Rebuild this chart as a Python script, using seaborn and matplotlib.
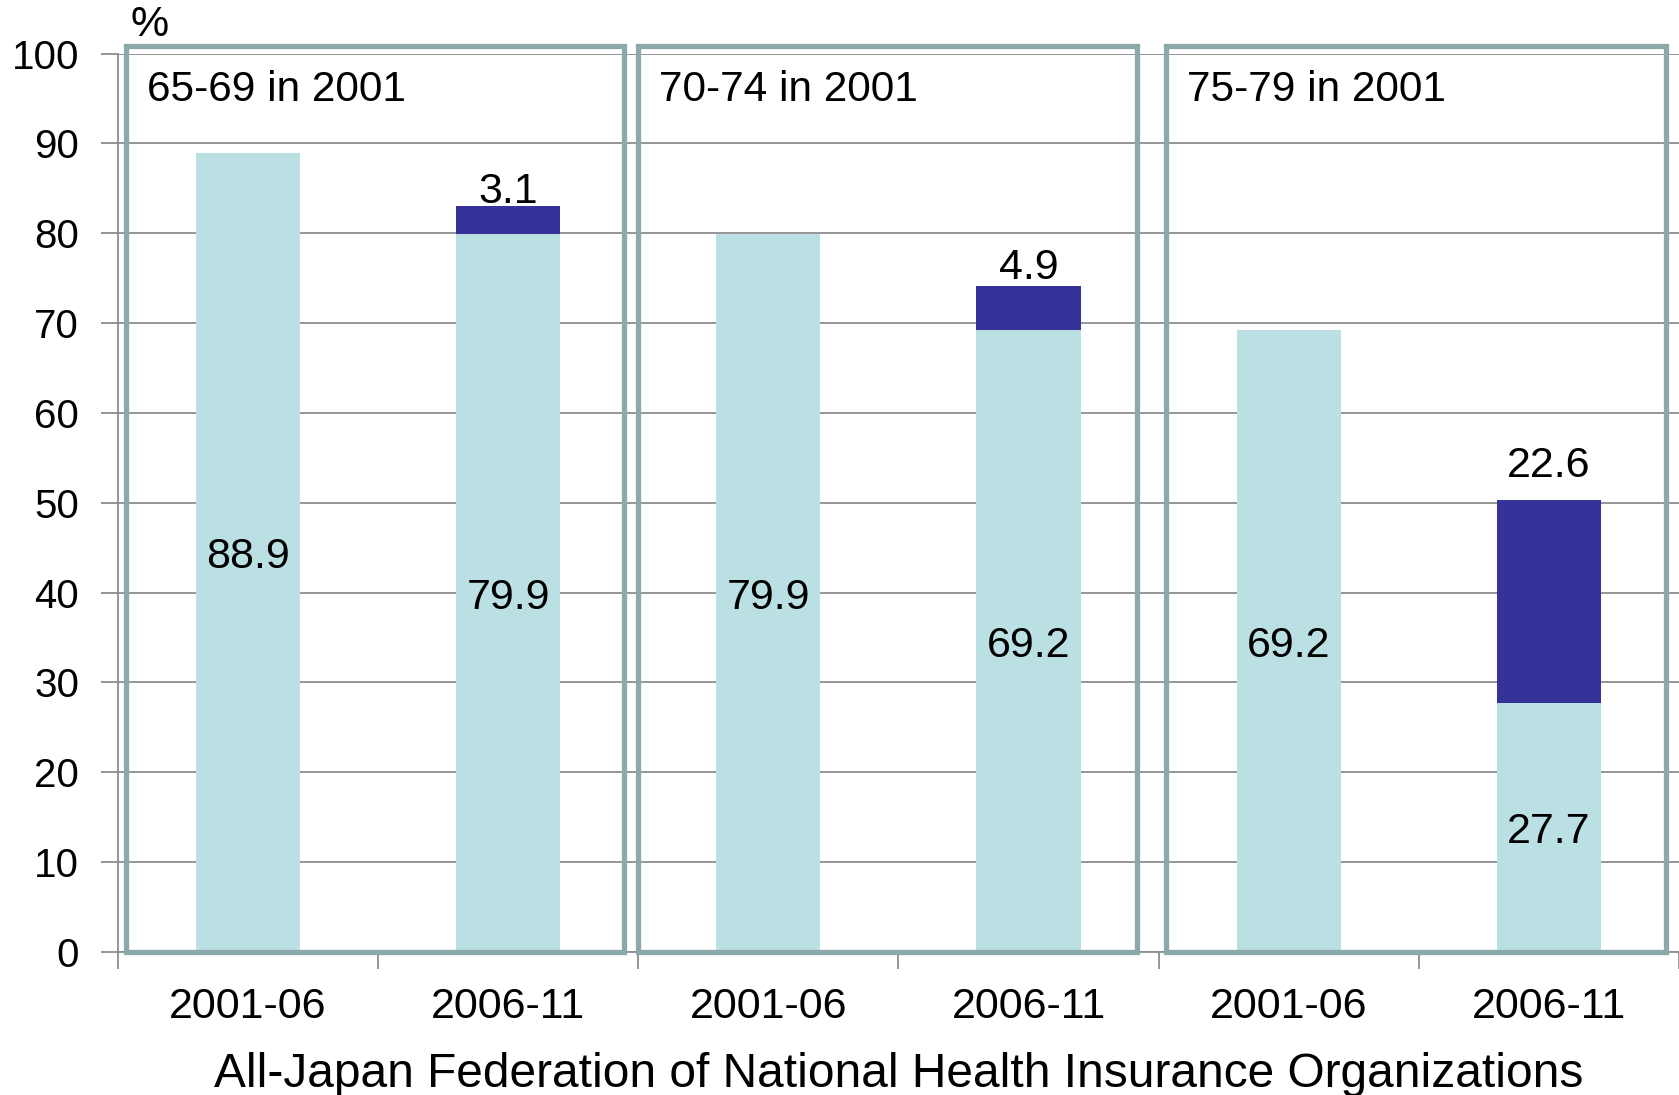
import numpy as np
import pandas as pd
import seaborn as sns
import matplotlib.pyplot as plt
from matplotlib.patches import Rectangle

# data
periods = ['2001-06', '2006-11', '2001-06', '2006-11', '2001-06', '2006-11']
light_vals = [88.9, 79.9, 79.9, 69.2, 69.2, 27.7]
dark_vals = [0, 3.1, 0, 4.9, 0, 22.6]
group_titles = ['65-69 in 2001', '70-74 in 2001', '75-79 in 2001']

df = pd.DataFrame({
    'pos': [str(i) for i in range(len(periods))],
    'light': light_vals,
    'dark': dark_vals,
})
df['total'] = df['light'] + df['dark']

sns.set_style('white')
plt.rcParams['font.family'] = ['Liberation Sans', 'DejaVu Sans']
plt.rcParams['text.color'] = 'black'
plt.rcParams['xtick.color'] = 'black'
plt.rcParams['ytick.color'] = 'black'
plt.rcParams['axes.labelcolor'] = 'black'

fig = plt.figure(figsize=(16.79, 10.95), dpi=100)
ax = fig.add_axes([0.0702, 0.1306, 0.9298, 0.8204])

light_c = '#BAE0E3'
dark_c = '#353399'
box_c = '#8BA8AA'
grey = '#8c8c8c'

# stacked: draw the totals in dark, then the light part over them
sns.barplot(data=df, x='pos', y='total', color=dark_c, saturation=1, width=0.4,
            linewidth=0, ax=ax, zorder=2)
sns.barplot(data=df, x='pos', y='light', color=light_c, saturation=1, width=0.4,
            linewidth=0, ax=ax, zorder=3)

ax.set_ylim(0, 100)
ax.set_xlim(-0.5, 5.5)
ax.set_yticks(range(0, 101, 10))
ax.yaxis.grid(True, color=grey, linewidth=1.3)
ax.set_axisbelow(True)
ax.tick_params(axis='y', labelsize=29, length=12, color=grey, width=1.3, pad=16, left=True)

# major ticks at the category borders, labels on minor ticks
ax.set_xticks(np.arange(-0.5, 5.6, 1.0))
ax.set_xticklabels([])
ax.set_xticks(range(len(periods)), minor=True)
ax.set_xticklabels(periods, minor=True)
ax.tick_params(axis='x', which='major', length=12, color=grey, width=1.3, bottom=True)
ax.tick_params(axis='x', which='minor', length=0, labelsize=31, pad=25)

for s in ['top', 'right']:
    ax.spines[s].set_visible(False)
for s in ['left', 'bottom']:
    ax.spines[s].set_color(grey)
    ax.spines[s].set_linewidth(1.3)

ax.set_xlabel('All-Japan Federation of National Health Insurance Organizations', fontsize=34.5, labelpad=18)
ax.set_ylabel('')

# value labels
top_pad = [0, -0.6, 0, -0.2, 0, 1.6]
for i, row in df.iterrows():
    ax.text(i, row['light'] / 2, f"{row['light']:.1f}", ha='center', va='center_baseline',
            fontsize=31, zorder=5)
    if row['dark'] > 0:
        ax.text(i, row['total'] + top_pad[i], f"{row['dark']:.1f}", ha='center', va='bottom',
                fontsize=31, zorder=5)

# group frames
box_x = [(-0.467, 1.447), (1.5, 3.418), (3.529, 5.45)]
for (x0, x1), title in zip(box_x, group_titles):
    ax.add_patch(Rectangle((x0, 0), x1 - x0, 100.8, fill=False, edgecolor=box_c,
                           linewidth=3.8, clip_on=False, zorder=6))
    ax.text(x0 + 0.08, 96.5, title, ha='left', va='center_baseline', fontsize=30.5, zorder=6)

ax.text(-0.45, 101.0, '%', ha='left', va='bottom', fontsize=31, clip_on=False)

fig.savefig('out.png', dpi=100)
